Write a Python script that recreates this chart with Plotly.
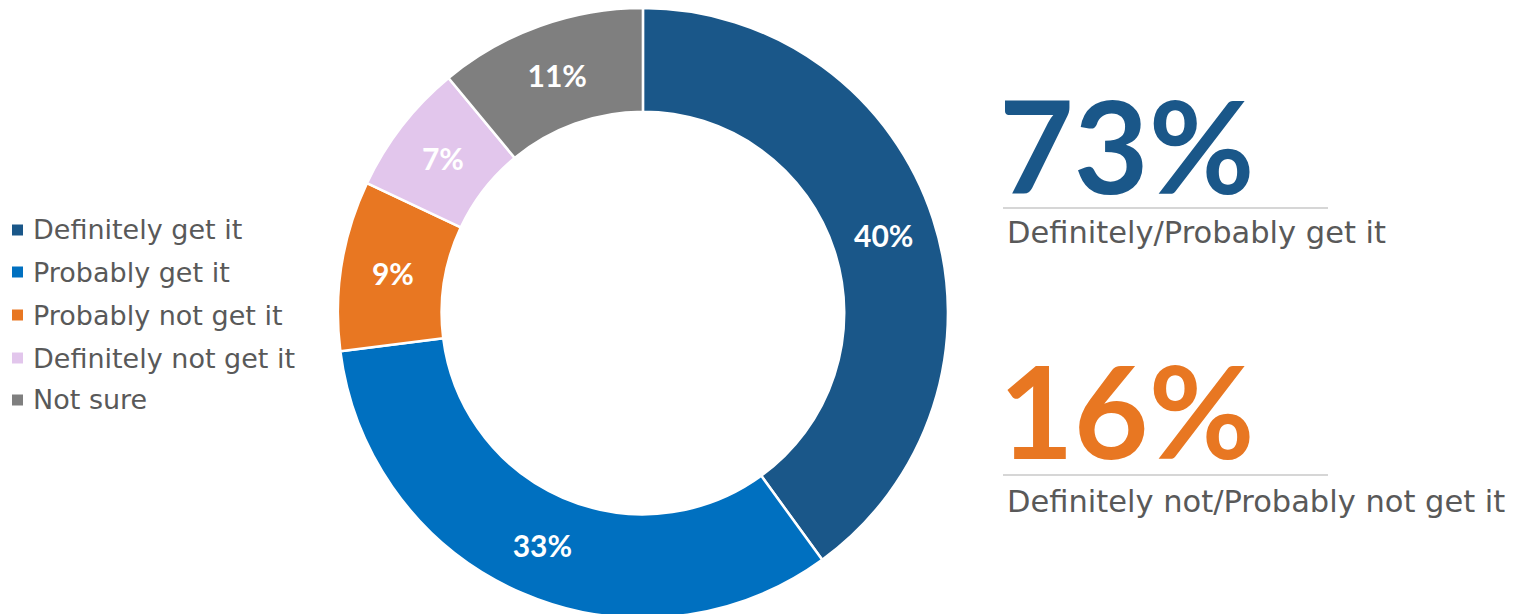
import plotly.graph_objects as go

categories = ["Definitely get it", "Probably get it", "Probably not get it",
              "Definitely not get it", "Not sure"]
values = [40, 33, 9, 7, 11]
colors = ["#1A5789", "#0070C0", "#E87722", "#E2C6EC", "#7F7F7F"]
slice_labels = ["40%", "33%", "9%", "7%", "11%"]

summary_values = ["73%", "16%"]
summary_labels = ["Definitely/Probably get it", "Definitely not/Probably not get it"]
summary_colors = ["#1A5789", "#E87722"]

W, H = 1523, 614

fig = go.Figure(go.Pie(
    labels=categories,
    values=values,
    text=slice_labels,
    textinfo="text",
    textposition="inside",
    insidetextorientation="horizontal",
    textfont=dict(family="Lato", size=30, color="white", weight="bold"),
    marker=dict(colors=colors, line=dict(color="white", width=2.5)),
    hole=0.66,
    sort=False,
    direction="clockwise",
    rotation=0,
    showlegend=False,
    domain=dict(x=[0.2119, 0.6219], y=[4 / 614, 1]),
))

def px(x):
    return x / W

def py(y):
    return 1 - y / H

annotations = []
shapes = []

# legend (built from categories/colors)
leg_rows = [222, 264, 307, 350, 392]
for cat, col, yr in zip(categories, colors, leg_rows):
    shapes.append(dict(type="rect", xref="paper", yref="paper",
                       x0=px(4), x1=px(15), y0=py(yr - 5.5), y1=py(yr + 5.5),
                       fillcolor=col, line=dict(width=0)))
    annotations.append(dict(
        text=cat, x=px(23), y=py(yr), xref="paper", yref="paper",
        xanchor="left", yanchor="middle", showarrow=False,
        font=dict(family="DejaVu Sans", size=27, color="#595959")))

ys_num = [136, 401]
ys_line = [200, 467]
ys_lab = [225, 493]
for v, lab, c, yn, yl, yt in zip(summary_values, summary_labels, summary_colors,
                                  ys_num, ys_line, ys_lab):
    annotations.append(dict(
        text=f"<b>{v}</b>", x=px(989), y=py(yn), xref="paper", yref="paper",
        xanchor="left", yanchor="middle", showarrow=False,
        font=dict(family="Lato", size=129, color=c)))
    shapes.append(dict(type="line", xref="paper", yref="paper",
                       x0=px(995), x1=px(1320), y0=py(yl), y1=py(yl),
                       line=dict(color="#C8C8C8", width=1.5)))
    annotations.append(dict(
        text=lab, x=px(997), y=py(yt), xref="paper", yref="paper",
        xanchor="left", yanchor="middle", showarrow=False,
        font=dict(family="DejaVu Sans", size=30.5, color="#595959")))

fig.update_layout(
    width=W, height=H,
    margin=dict(l=0, r=0, t=0, b=0),
    paper_bgcolor="white", plot_bgcolor="white",
    showlegend=False,
    annotations=annotations,
    shapes=shapes,
)

fig.write_html("out.html")
